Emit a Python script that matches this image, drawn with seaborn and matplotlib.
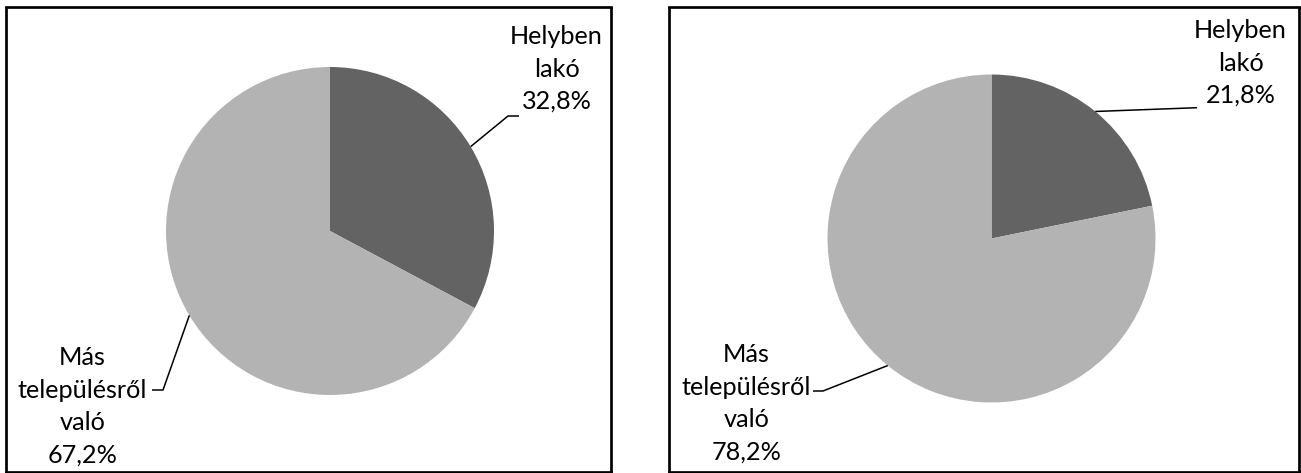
import numpy as np
import matplotlib
matplotlib.use("Agg")
import matplotlib.pyplot as plt
from matplotlib.font_manager import FontProperties
from matplotlib.textpath import TextPath
import seaborn as sns

# ---------------- data ----------------
categories = ["Helyben\nlakó", "Más\ntelepülésről\nvaló"]
left_values = [32.8, 67.2]
right_values = [21.8, 78.2]
left_pct_labels = ["32,8%", "67,2%"]
right_pct_labels = ["21,8%", "78,2%"]
colors = ["#636363", "#b3b3b3"]

# ---------------- style ----------------
sns.set_theme(style="white")
plt.rcParams['font.family'] = ['Lato', 'DejaVu Sans']

W, H = 1301, 473
DPI = 100
fig = plt.figure(figsize=(W / DPI, H / DPI), dpi=DPI)
fig.patch.set_facecolor("white")

# font size fitted so that the widest word is ~127 px wide
fp = FontProperties(family=['Lato', 'DejaVu Sans'], size=20)
tp = TextPath((0, 0), "településről", prop=fp)
w20 = tp.get_extents().width * DPI / 72.0
FS = 20 * 127.0 / w20
LINE_PX = 32.5  # distance between baselines in pixels

# panel layout (image pixel coords of border centre lines)
panels = [
    dict(box=(6.3, 7.5, 611.3, 472), center=(330, 231), radius=164,
         values=left_values, pct=left_pct_labels,
         label_pos=[(556.5, 44), (82.5, 365)],
         elbows=[[(508, 116), (519, 116)], [(163, 390), (152, 390)]]),
    dict(box=(669, 7.5, 1298.5, 472), center=(991.5, 238.5), radius=164,
         values=right_values, pct=right_pct_labels,
         label_pos=[(1240.5, 38), (746.5, 362)],
         elbows=[[(1197, 107.7)], [(823, 391), (813, 391)]]),
]

for p in panels:
    x0, y0, x1, y1 = p["box"]
    ax = fig.add_axes([x0 / W, (H - y1) / H, (x1 - x0) / W, (y1 - y0) / H])
    vals = np.array(p["values"])
    ax.pie(vals, colors=colors, startangle=-90, counterclock=True,
           center=p["center"], radius=p["radius"], frame=True,
           wedgeprops=dict(linewidth=0, edgecolor="none"))
    ax.set_aspect("auto")
    ax.set_xlim(x0, x1)
    ax.set_ylim(y1, y0)  # data units == image pixels
    ax.set_xticks([])
    ax.set_yticks([])
    ax.set_facecolor("white")
    for s in ax.spines.values():
        s.set_visible(True)
        s.set_color("black")
        s.set_linewidth(1.95)

    cum = np.concatenate([[0], np.cumsum(vals)[:-1]])
    cx, cy = p["center"]
    r = p["radius"]
    for i, (cat, pct) in enumerate(zip(categories, p["pct"])):
        theta = np.deg2rad(-90 + 360 * (cum[i] + vals[i] / 2) / vals.sum())
        sx, sy = cx + r * np.cos(theta), cy + r * np.sin(theta)
        pts = [(sx, sy)] + p["elbows"][i]
        xs, ys = zip(*pts)
        ax.plot(xs, ys, color="black", linewidth=1.1, solid_capstyle="butt",
                clip_on=False)
        lx, ly = p["label_pos"][i]
        lines = f"{cat}\n{pct}".split("\n")
        for k, line in enumerate(lines):
            ax.text(lx, ly + k * LINE_PX, line, ha="center", va="baseline",
                    fontsize=FS, color="black")

fig.savefig("out.png", dpi=DPI, facecolor="white")
